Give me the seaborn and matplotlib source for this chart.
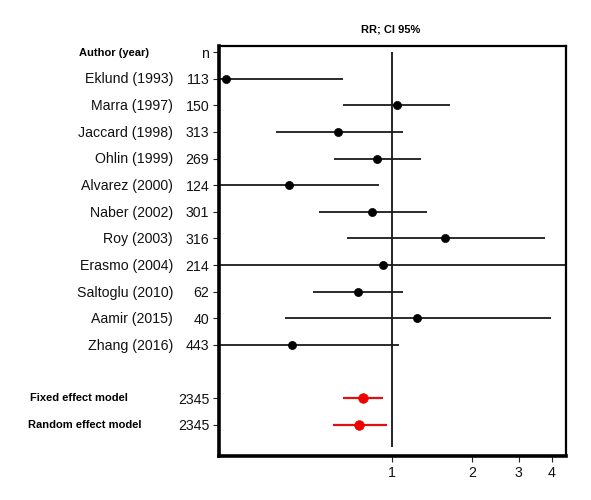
import matplotlib
matplotlib.use("Agg")
import matplotlib.pyplot as plt
import seaborn as sns
import pandas as pd
import numpy as np

# ---- data ----
authors = ["Eklund (1993)", "Marra (1997)", "Jaccard (1998)", "Ohlin (1999)",
           "Alvarez (2000)", "Naber (2002)", "Roy (2003)", "Erasmo (2004)",
           "Saltoglu (2010)", "Aamir (2015)", "Zhang (2016)"]
n_study = [113, 150, 313, 269, 124, 301, 316, 214, 62, 40, 443]
rr = [0.237, 1.04, 0.626, 0.876, 0.409, 0.841, 1.58, 0.925, 0.745, 1.24, 0.42]
ci_low = [0.15, 0.654, 0.366, 0.605, 0.15, 0.531, 0.677, 0.1, 0.504, 0.395, 0.15]
ci_high = [0.652, 1.66, 1.10, 1.28, 0.894, 1.355, 3.77, 10.0, 1.10, 3.97, 1.06]

models = ["Fixed effect model", "Random effect model"]
n_model = [2345, 2345]
rr_model = [0.778, 0.751]
ci_low_model = [0.654, 0.600]
ci_high_model = [0.925, 0.957]

x_ticks = [1, 2, 3, 4]

# ---- layout ----
sns.set_style("white")
plt.rcParams['font.family'] = ['Liberation Sans', 'DejaVu Sans']

fig = plt.figure(figsize=(5.91, 5.0), dpi=100)
ax = fig.add_axes([219/591, 1-456/500, (566-219)/591, (456-46)/500])

study_pos = list(range(1, len(authors) + 1))
model_pos = [len(authors) + 2, len(authors) + 3]

df_s = pd.DataFrame({"pos": study_pos, "rr": rr, "lo": ci_low, "hi": ci_high})
df_m = pd.DataFrame({"pos": model_pos, "rr": rr_model, "lo": ci_low_model, "hi": ci_high_model})

ax.set_xscale("log")
ax.set_xlim(0.223, 4.52)
ax.set_ylim(15.17, -0.23)

# reference line at 1
ax.vlines(1, 0, 14.85, color="black", lw=1.2, zorder=1)

# CI lines
ax.hlines(df_s["pos"], df_s["lo"], df_s["hi"], color="#1a1a1a", lw=1.3, zorder=2)
ax.hlines(df_m["pos"], df_m["lo"], df_m["hi"], color="#e01010", lw=1.6, zorder=2)

sns.scatterplot(data=df_s, x="rr", y="pos", ax=ax, color="black", s=34,
                edgecolor="black", linewidth=0.5, zorder=3, legend=False)
sns.scatterplot(data=df_m, x="rr", y="pos", ax=ax, color="#ee0000", s=48,
                edgecolor="#ee0000", linewidth=0.5, zorder=3, legend=False)

# y ticks: n values
ax.set_yticks([0] + study_pos + model_pos)
ax.set_yticklabels(["n"] + [str(v) for v in n_study] + [str(v) for v in n_model],
                   fontsize=10.2)
ax.tick_params(axis="y", left=True, length=4, width=0.8, pad=3, colors="#222222")
ax.tick_params(axis="y", labelcolor="#111111")

# x ticks
ax.set_xticks(x_ticks)
ax.set_xticklabels([str(v) for v in x_ticks], fontsize=10.2)
ax.xaxis.set_minor_locator(matplotlib.ticker.NullLocator())
ax.tick_params(axis="x", bottom=True, length=4, width=0.8, pad=3, labelcolor="#111111")
ax.set_xlabel("")
ax.set_ylabel("")

for side, w in [("left", 2.6), ("bottom", 2.6), ("top", 1.6), ("right", 1.6)]:
    ax.spines[side].set_visible(True)
    ax.spines[side].set_linewidth(w)
    ax.spines[side].set_color("black")

# author labels
to_fig = lambda px, py: (px / 591, 1 - py / 500)
for name, p in zip(authors, study_pos):
    y_px = 52.8 + p * 26.64
    fig.text(*to_fig(173, y_px), name, ha="right", va="center", fontsize=10.2,
             color="#111111")

fig.text(*to_fig(79, 52.5), "Author (year)", ha="left", va="center", fontsize=8,
         fontweight="bold", color="black")
fig.text(*to_fig(30.5, 397.8), models[0], ha="left", va="center", fontsize=8,
         fontweight="bold", color="black")
fig.text(*to_fig(27.5, 424.8), models[1], ha="left", va="center", fontsize=8,
         fontweight="bold", color="black")
fig.text(*to_fig(391, 30), "RR; CI 95%", ha="center", va="center", fontsize=8,
         fontweight="bold", color="black")

fig.savefig("out.png", dpi=100, facecolor="white")
